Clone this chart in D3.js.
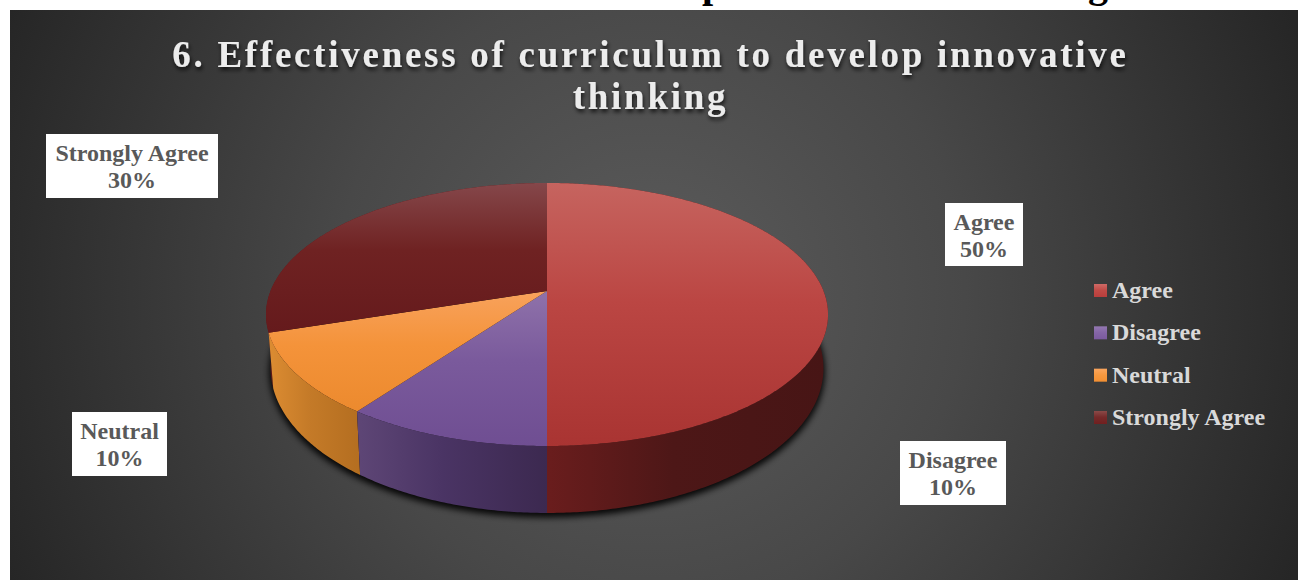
<!DOCTYPE html>
<html><head><meta charset="utf-8">
<script src="https://cdnjs.cloudflare.com/ajax/libs/d3/7.8.5/d3.min.js"></script>
<style>html,body{margin:0;padding:0;background:#fff;overflow:hidden}svg{display:block}text{font-family:"Liberation Serif",serif;font-weight:bold}</style>
</head><body><div id="c"></div>
<script>
const categories = ["Agree","Disagree","Neutral","Strongly Agree"];
const values = [50,10,10,30];
const titleLines = ["6. Effectiveness of curriculum to develop innovative","thinking"];
const topColors = [["#c6645f","#bb4643","#a93432"],["#8f72aa","#7a5a9c","#6f4e92"],["#f8a25c","#f4933a","#ec8a2e"],["#85474a","#6f2222","#651a1c"]];
const sideColors = [["#6a1d1d","#4d1717","#471515"],["#5e4676","#4a3464","#3c2950"],["#dc8c32","#c47a28","#b46e20"],["#5a1818","#5a1818","#5a1818"]];
const legendColors = [["#cf6a66","#c04a46","#b83c3a"],["#9478b2","#8465a6","#7a589e"],["#fba65e","#f6983f","#f28e30"],["#8a4a48","#752a2a","#701e1e"]];
const labelBoxes = [[945,203,78,63],[900,441,106,64],[72,412,95,64],[46,134,172,64]];
const W=1298,H=580;
const svg=d3.select("#c").append("svg").attr("width",W).attr("height",H);
const defs=svg.append("defs");
function lin(id,c,x1,y1,x2,y2){const g=defs.append("linearGradient").attr("id",id).attr("gradientUnits","userSpaceOnUse").attr("x1",x1).attr("y1",y1).attr("x2",x2).attr("y2",y2);
 [0,0.45,1].forEach((o,k)=>g.append("stop").attr("offset",o).attr("stop-color",c[k]));}
const bg=defs.append("radialGradient").attr("id","bg").attr("gradientUnits","userSpaceOnUse").attr("cx",650).attr("cy",295).attr("r",700);
[[0,"#5c5c5c"],[0.45,"#484848"],[1,"#262626"]].forEach(s=>bg.append("stop").attr("offset",s[0]).attr("stop-color",s[1]));
defs.append("filter").attr("id","blur").attr("x","-10%").attr("y","-10%").attr("width","120%").attr("height","120%").append("feGaussianBlur").attr("stdDeviation",3);
const ts=defs.append("filter").attr("id","ts").attr("x","-5%").attr("y","-20%").attr("width","110%").attr("height","150%");
ts.append("feDropShadow").attr("dx",1).attr("dy",3).attr("stdDeviation",2).attr("flood-color","#000").attr("flood-opacity",0.75);
defs.append("clipPath").attr("id","strip").append("rect").attr("x",0).attr("y",0).attr("width",W).attr("height",10);

// clipped line of the page text above the chart
const strip=svg.append("g").attr("clip-path","url(#strip)");
strip.append("text").attr("x",702).attr("y",-3).attr("font-size",40).attr("fill","#000").text("p");
strip.append("text").attr("x",1088).attr("y",-3).attr("font-size",40).attr("fill","#000").text("g");

svg.append("rect").attr("x",10).attr("y",10).attr("width",W-10).attr("height",H-10).attr("fill","url(#bg)");

svg.append("g").selectAll("text").data(titleLines).join("text")
 .attr("x",650.5).attr("y",(d,i)=>67+i*42).attr("text-anchor","middle").attr("font-size",37).attr("letter-spacing",2.72)
 .attr("fill","#ececec").attr("filter","url(#ts)").text(d=>d);

// projection of the pie plane: perspective tilt
const cx=547,persp=0.1787;
const upper={x:d3.scaleLinear().domain([-1,1]).range([cx-276.5,cx+276.5]),y:d3.scaleLinear().domain([-1,1]).range([291+127.3,291-127.3])};
const lower={x:d3.scaleLinear().domain([-1,1]).range([cx-272,cx+272]),y:d3.scaleLinear().domain([-1,1]).range([342.5+140,342.5-140])};
function proj(pl,a){const w=1+persp*Math.cos(a);return [pl.x(Math.sin(a)/w),pl.y(Math.cos(a)/w)];}
function arcPts(pl,a0,a1){const n=Math.max(2,Math.ceil((a1-a0)/0.01));return d3.range(n+1).map(i=>proj(pl,a0+(a1-a0)*i/n));}
const arcs=d3.pie().sort(null)(values);
const line=d3.line();

// shadow
const full=arcPts(lower,0,2*Math.PI);
svg.append("path").attr("d",line(full)+"Z").attr("fill","#000").attr("stroke","#000").attr("stroke-width",3).attr("opacity",0.9).attr("filter","url(#blur)").attr("transform","translate(0,3)");

// side walls, back slice first so it stays behind its neighbours
const sides=svg.append("g");
arcs.slice().reverse().forEach((d)=>{
 const i=d.index;
 const t=arcPts(upper,d.startAngle,d.endAngle),b=arcPts(lower,d.startAngle,d.endAngle);
 const pts=t.concat(b.reverse());
 const xs=d3.extent(pts,p=>p[0]);
 lin("side"+i,sideColors[i],xs[0],0,xs[1],0);
 sides.append("path").attr("d",line(pts)+"Z").attr("fill",`url(#side${i})`);
});
// top faces
const tops=svg.append("g");
arcs.forEach((d,i)=>{
 const apex=[cx,upper.y(0)];
 const pts=[apex].concat(arcPts(upper,d.startAngle,d.endAngle));
 const ys=d3.extent(pts,p=>p[1]);
 lin("top"+i,topColors[i],0,ys[0],0,ys[1]);
 tops.append("path").attr("d",line(pts)+"Z").attr("fill",`url(#top${i})`);
});

// data labels
const lab=svg.append("g").selectAll("g").data(categories).join("g");
lab.append("rect").attr("x",(d,i)=>labelBoxes[i][0]).attr("y",(d,i)=>labelBoxes[i][1]).attr("width",(d,i)=>labelBoxes[i][2]).attr("height",(d,i)=>labelBoxes[i][3]).attr("fill","#fff");
lab.append("text").attr("x",(d,i)=>labelBoxes[i][0]+labelBoxes[i][2]/2).attr("y",(d,i)=>labelBoxes[i][1]+27).attr("text-anchor","middle").attr("font-size",24).attr("fill","#595959").text(d=>d);
lab.append("text").attr("x",(d,i)=>labelBoxes[i][0]+labelBoxes[i][2]/2).attr("y",(d,i)=>labelBoxes[i][1]+54).attr("text-anchor","middle").attr("font-size",24).attr("fill","#595959").text((d,i)=>values[i]+"%");

// legend
const legY=d3.scalePoint().domain(categories).range([291,418]);
const leg=svg.append("g").selectAll("g").data(categories).join("g");
leg.each(function(d,i){const y=legY(d);lin("leg"+i,legendColors[i],0,y-7,0,y+7);});
leg.append("rect").attr("x",1094).attr("y",d=>legY(d)-7).attr("width",13).attr("height",13).attr("fill",(d,i)=>`url(#leg${i})`);
leg.append("text").attr("x",1112).attr("y",d=>legY(d)+7).attr("font-size",24).attr("fill","#d9d9d9").text(d=>d);
</script></body></html>
